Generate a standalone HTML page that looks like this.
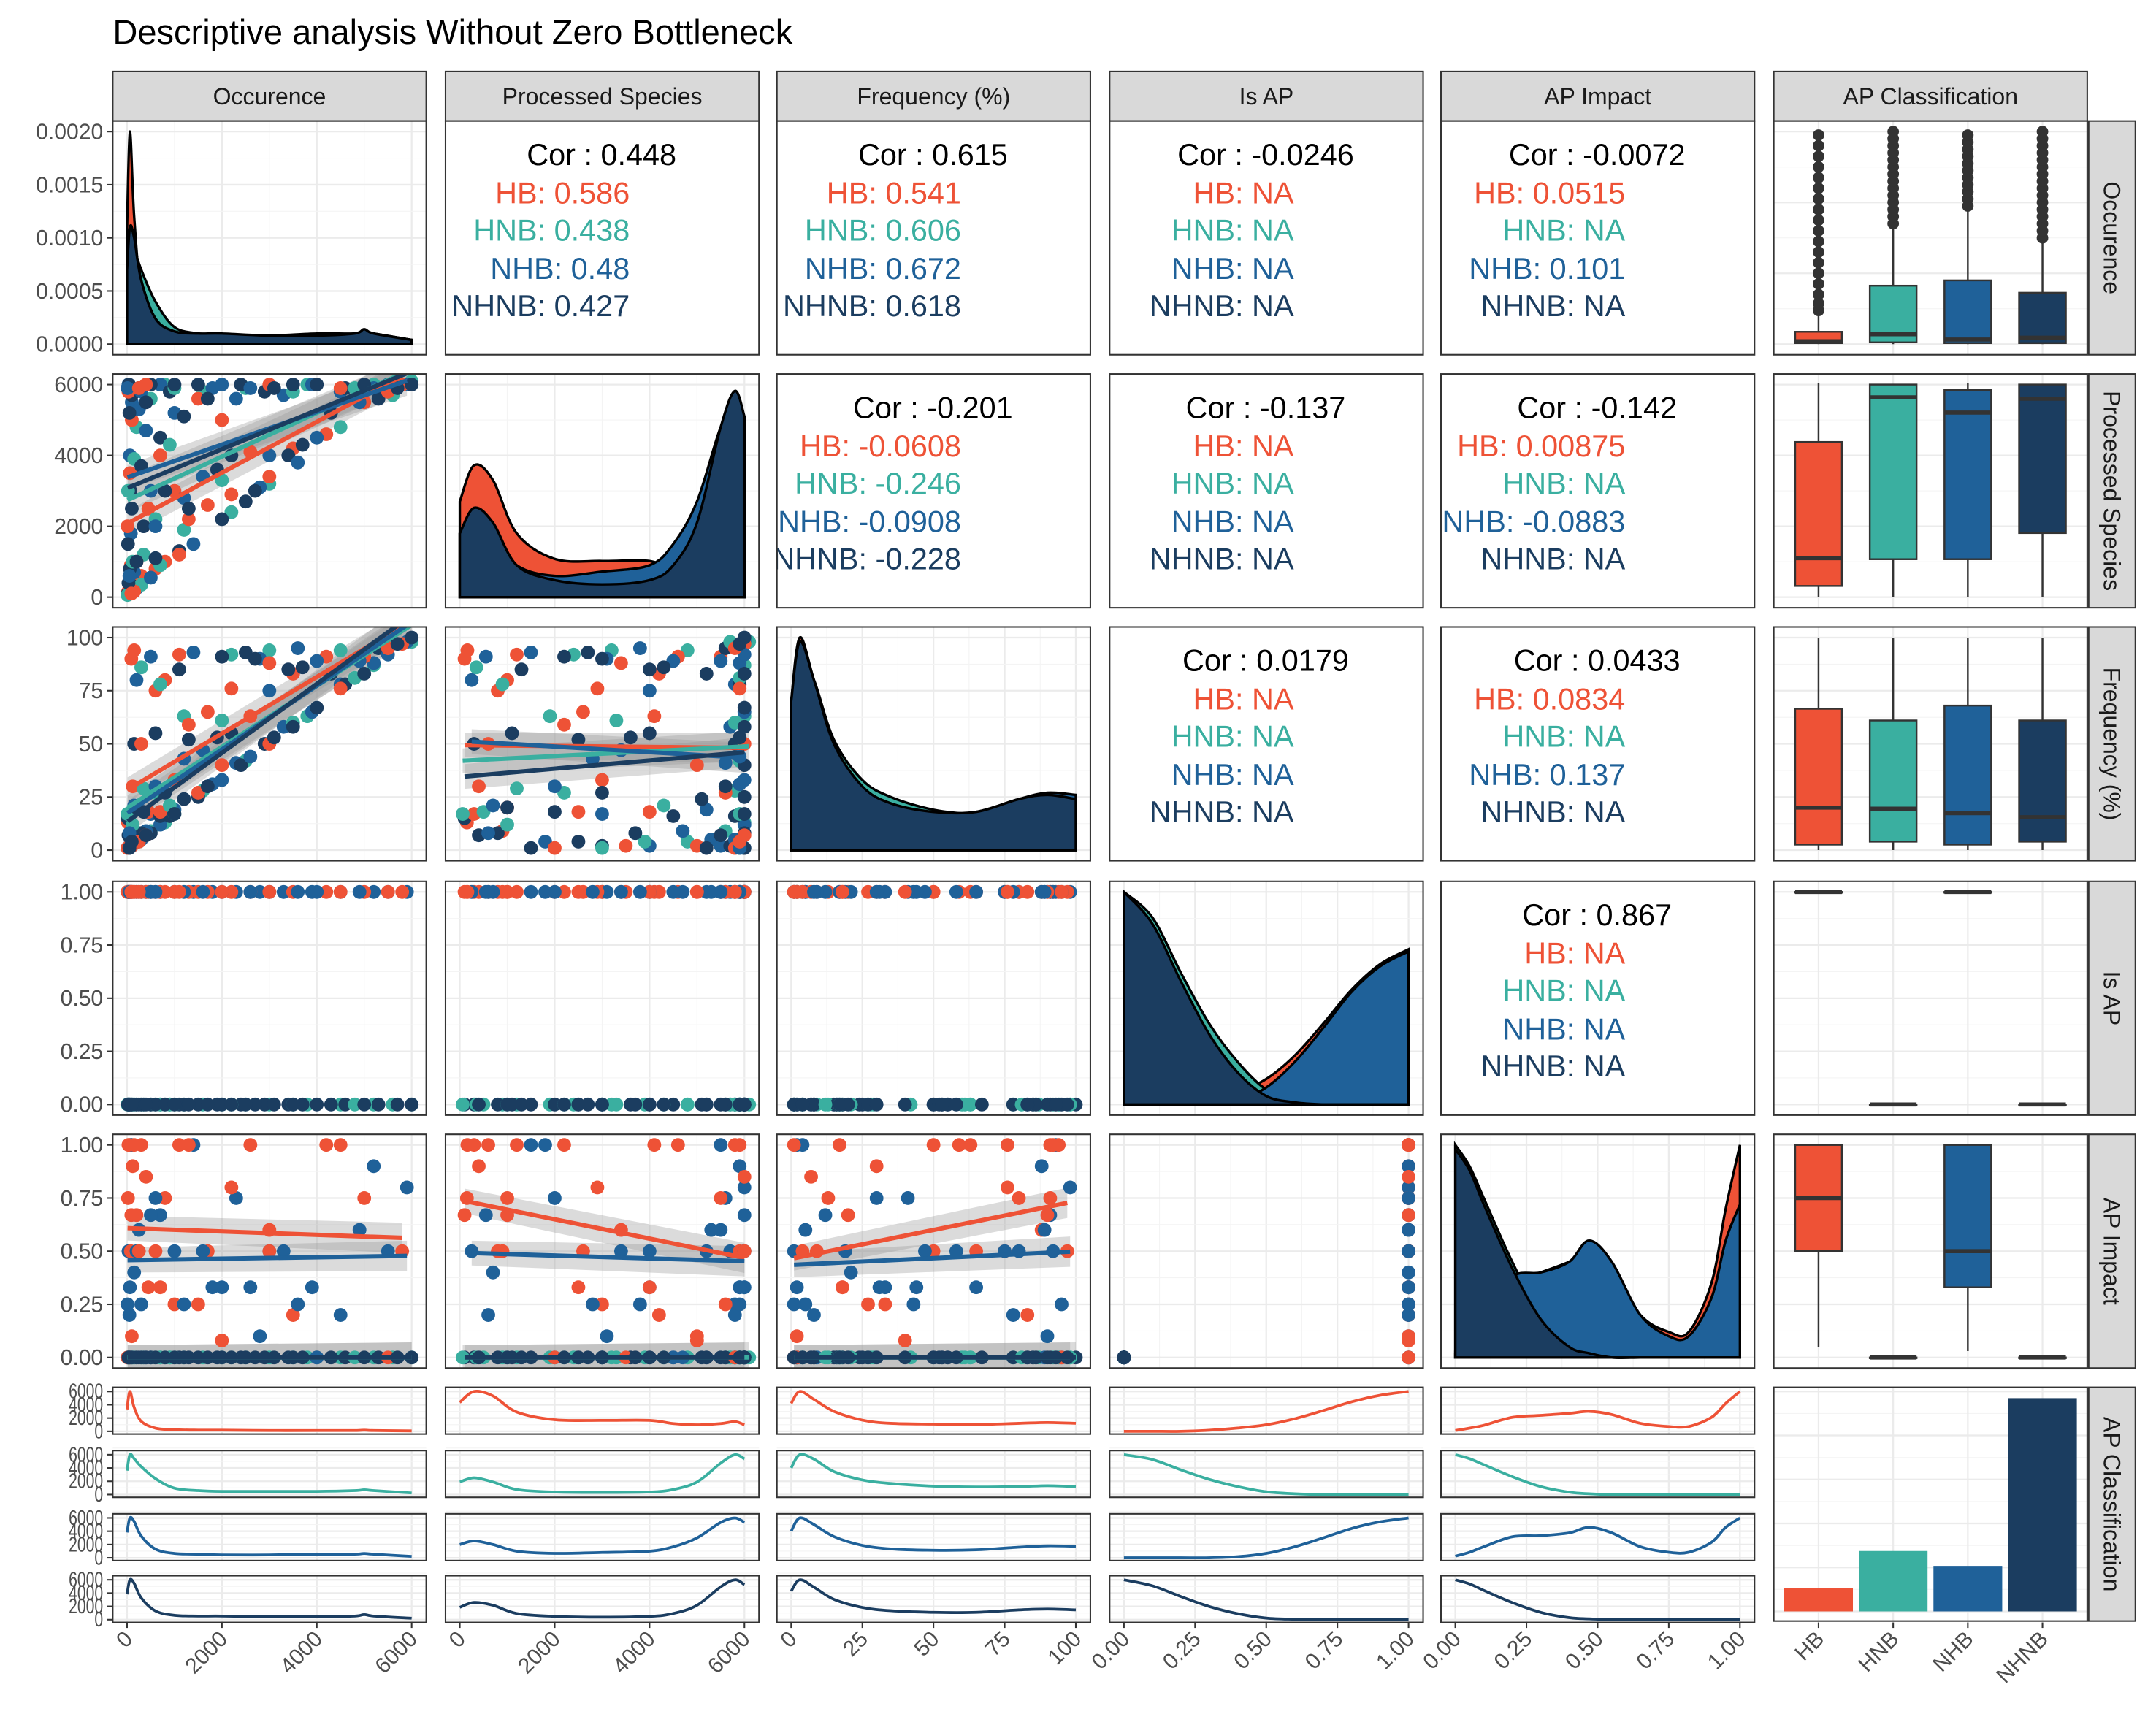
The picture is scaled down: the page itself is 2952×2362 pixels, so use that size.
<!DOCTYPE html>
<html><head><meta charset="utf-8">
<style>
html,body{margin:0;padding:0;background:#fff;}
svg{display:block;font-family:"Liberation Sans",Arial,sans-serif;}
</style></head>
<body>
<svg id="chart" xmlns="http://www.w3.org/2000/svg" width="2952" height="2362" viewBox="0 0 1568 1254.6" preserveAspectRatio="none">
<rect x="0" y="0" width="1568" height="1254.6" fill="#fff"/>
<text x="82" y="32" font-size="25" fill="#000">Descriptive analysis Without Zero Bottleneck</text>
</svg>
<script>
// ---------- DATA ----------
const varNames = ["Occurence","Processed Species","Frequency (%)","Is AP","AP Impact","AP Classification"];
const classNames = ["HB","HNB","NHB","NHNB"];
const classColors = ["#ee5236","#3aafa0","#1f6199","#1b3d60"];
// records: [occurence, processed, frequency, isAP, impact, class]
const records = [
[20,150,13,1,0.75,0],[50,300,17,1,1,0],[80,900,9,1,0.5,0],[120,400,30,1,0.9,0],[200,1000,20,1,0.67,0],[300,600,50,1,1,0],[450,2500,18,1,0.33,0],[600,800,75,1,0.5,0],[800,1000,80,1,0.75,0],[1000,3000,33,1,0.25,0],[1300,2200,59,1,1,0],[1700,2600,65,1,0.5,0],[2200,2900,76,1,0.8,0],[2600,4100,63,1,1,0],[3000,3400,88,1,0.6,0],[3500,4200,83,1,0.2,0],[4200,4600,91,1,1,0],[5000,5500,91,1,0.75,0],[5800,6000,97,1,0.5,0],[30,5800,1,1,1,0],[100,5000,2,1,0.1,0],[60,3500,2,1,0,0],[150,160,94,1,1,0],[400,6000,7,1,0.85,0],
[10,2000,1,1,0,0],[250,5900,4,1,0.5,0],[700,4000,18,1,0.33,0],[1100,1200,92,1,1,0],[1500,5600,27,1,0.25,0],[3000,6000,50,1,0.5,0],[4500,5900,76,1,1,0],[90,100,90,1,0.67,0],[2000,5000,40,1,0.08,0],[5500,5800,95,1,0,0],
[40,5900,1,0,0,1],[90,500,18,0,0,1],[200,4800,4,0,0,1],[350,1200,29,0,0,1],[500,5600,9,0,0,1],[800,6000,13,0,0,1],[1200,1900,63,0,0,1],[1600,5800,28,0,0,1],[2000,3300,61,0,0,1],[2500,5900,42,0,0,1],[3000,3200,94,0,0,1],[3800,6000,63,0,0,1],[4500,4800,94,0,0,1],[5200,6000,87,0,0,1],[6000,6100,98,0,0,1],[10,60,17,0,0,1],[150,3900,4,0,0,1],[700,900,78,0,0,1],
[20,3000,1,0,0,1],[300,350,86,0,0,1],[600,2200,27,0,0,1],[1000,5900,17,0,0,1],[2200,2400,92,0,0,1],[3500,5800,60,0,0,1],[4800,5900,81,0,0,1],[5600,5700,98,0,0,1],[120,1000,12,0,0,1],[900,4300,21,0,0,1],
[30,6000,1,1,0.5,2],[60,4000,2,1,0.33,2],[100,5500,2,1,1,2],[200,250,80,1,0.5,2],[300,5800,5,1,0.25,2],[500,3000,17,1,0,2],[700,6000,12,1,0.67,2],[1000,5200,19,1,0.5,2],[1400,1500,93,1,1,2],[1800,5900,31,1,0.33,2],[2300,5600,41,1,0.75,2],[2800,3100,90,1,0.1,2],[3300,5700,58,1,0.5,2],[3900,6000,65,1,0.33,2],[4500,5800,78,1,0.2,2],[5200,5900,88,1,0.9,2],[5900,6000,98,1,0.8,2],[80,1800,4,1,1,2],[150,700,21,1,0.4,2],[400,4700,9,1,0,2],[250,5300,5,1,0.6,2],[1200,2800,43,1,0.25,2],
[10,5900,1,1,0.25,2],[500,550,91,1,0.67,2],[2000,6000,33,1,0.33,2],[3000,4000,75,1,0.5,2],[4000,4500,89,1,0,2],[5500,6000,92,1,0.5,2],[600,2000,30,1,0.75,2],[50,600,8,1,0.2,2],[1600,3400,47,1,0.5,2],[2600,5900,44,1,0.33,2],[3600,3800,95,1,0.25,2],[4900,5500,89,1,0.6,2],
[15,100,15,0,0,3],[40,6000,1,0,0,3],[70,3000,2,0,0,3],[100,5700,2,0,0,3],[150,300,50,0,0,3],[250,5900,4,0,0,3],[350,2000,18,0,0,3],[500,6000,8,0,0,3],[700,4500,16,0,0,3],[900,5800,16,0,0,3],[1100,1300,85,0,0,3],[1500,6000,25,0,0,3],[1900,3600,53,0,0,3],[2400,6000,40,0,0,3],[2900,5800,50,0,0,3],[3400,4000,85,0,0,3],[4000,6000,67,0,0,3],[4600,5900,78,0,0,3],[5300,5600,95,0,0,3],[6000,6000,100,0,0,3],[20,1500,1,0,0,3],[60,800,8,0,0,3],[300,3700,8,0,0,3],[1200,5100,24,0,0,3],[2000,2200,91,0,0,3],[50,5200,1,0,0,3],
[30,400,7,0,0,3],[200,1000,20,0,0,3],[600,1100,55,0,0,3],[800,3000,27,0,0,3],[1300,2500,52,0,0,3],[1700,5600,30,0,0,3],[2200,4000,55,0,0,3],[2700,3000,90,0,0,3],[3100,5900,53,0,0,3],[3700,4300,86,0,0,3],[4300,5200,83,0,0,3],[5000,6000,83,0,0,3],[5700,5900,97,0,0,3],[400,5500,7,0,0,3],[1000,6000,17,0,0,3],[100,2500,4,0,0,3],[2500,2700,93,0,0,3],[3500,6000,58,0,0,3]
];
// density grids (x positions in data units) and class densities (fraction of panel height)
const densX0 = [0,60,150,300,600,1000,1500,2000,3000,4000,4800,5000,5200,6000];
const densHB0 = [0.55,1.0,0.6,0.25,0.08,0.04,0.03,0.03,0.02,0.02,0.02,0.03,0.02,0.01];
const densHNB0 = [0.3,0.5,0.45,0.35,0.2,0.08,0.05,0.04,0.04,0.04,0.05,0.06,0.05,0.02];
const densNHB0 = [0.35,0.55,0.5,0.3,0.12,0.06,0.05,0.04,0.04,0.05,0.05,0.06,0.05,0.02];
const densNHNB0 = [0.35,0.55,0.5,0.3,0.12,0.06,0.05,0.05,0.04,0.04,0.05,0.07,0.05,0.02];
const densX1 = [0,300,700,1200,2000,3000,4000,4500,5000,5500,5800,6000];
const densHB1 = [0.45,0.62,0.55,0.3,0.18,0.17,0.17,0.12,0.1,0.12,0.15,0.1];
const densHNB1 = [0.3,0.4,0.3,0.12,0.06,0.05,0.06,0.12,0.3,0.75,0.95,0.85];
const densNHB1 = [0.3,0.38,0.3,0.15,0.1,0.12,0.15,0.25,0.45,0.8,0.9,0.8];
const densNHNB1 = [0.3,0.42,0.35,0.15,0.08,0.06,0.08,0.15,0.35,0.8,0.97,0.85];
const densX2 = [0,3,8,15,25,35,50,65,80,90,100];
const densHB2 = [0.7,1.0,0.8,0.5,0.28,0.2,0.18,0.17,0.2,0.22,0.2];
const densHNB2 = [0.6,0.9,0.8,0.52,0.33,0.25,0.19,0.17,0.18,0.2,0.18];
const densNHB2 = [0.6,0.9,0.75,0.48,0.28,0.2,0.17,0.18,0.24,0.27,0.26];
const densNHNB2 = [0.7,0.98,0.8,0.5,0.3,0.22,0.18,0.18,0.24,0.26,0.24];
const densX3 = [0,0.1,0.2,0.3,0.4,0.5,0.6,0.7,0.8,0.9,1.0];
const densHB3 = [0,0,0,0.02,0.06,0.12,0.23,0.38,0.54,0.66,0.73];
const densHNB3 = [1.0,0.88,0.62,0.38,0.2,0.07,0.02,0,0,0,0];
const densNHB3 = [0,0,0,0,0.02,0.08,0.2,0.36,0.53,0.65,0.72];
const densNHNB3 = [1.0,0.85,0.58,0.33,0.15,0.04,0.01,0,0,0,0];
const densX4 = [0,0.05,0.1,0.2,0.3,0.4,0.47,0.55,0.65,0.75,0.82,0.9,0.95,1.0];
const densHB4 = [0.02,0.08,0.15,0.35,0.4,0.45,0.5,0.42,0.2,0.12,0.12,0.35,0.7,1.0];
const densHNB4 = [1.0,0.9,0.75,0.45,0.2,0.06,0.02,0,0,0,0,0,0,0];
const densNHB4 = [0.03,0.1,0.2,0.38,0.4,0.45,0.55,0.45,0.2,0.1,0.1,0.28,0.55,0.72];
const densNHNB4 = [0.98,0.88,0.72,0.42,0.18,0.05,0.02,0,0,0,0,0,0,0];
// correlations: [row, col, cor, HB, HNB, NHB, NHNB]
const corPanels = [
[0,1,"0.448","0.586","0.438","0.48","0.427"],
[0,2,"0.615","0.541","0.606","0.672","0.618"],
[0,3,"-0.0246","NA","NA","NA","NA"],
[0,4,"-0.0072","0.0515","NA","0.101","NA"],
[1,2,"-0.201","-0.0608","-0.246","-0.0908","-0.228"],
[1,3,"-0.137","NA","NA","NA","NA"],
[1,4,"-0.142","0.00875","NA","-0.0883","NA"],
[2,3,"0.0179","NA","NA","NA","NA"],
[2,4,"0.0433","0.0834","NA","0.137","NA"],
[3,4,"0.867","NA","NA","NA","NA"]
];
// boxplot stats per row variable: [lowWhisker, q1, median, q3, highWhisker] per class
const boxOcc = [[0,30,80,350,900],[0,50,280,1650,3300],[0,30,130,1800,3800],[0,30,180,1450,2900]];
const boxProc = [[0,315,1100,4380,6050],[0,1070,5640,6000,6000],[0,1070,5210,5850,6050],[0,1810,5600,6000,6000]];
const boxFreq = [[0,2.6,20,66.5,100],[0,4,19.5,61,100],[0,2.6,17.4,68,100],[0,4,15.5,61,100]];
const boxIsAP = [[1,1,1,1,1],[0,0,0,0,0],[1,1,1,1,1],[0,0,0,0,0]];
const boxImpact = [[0.05,0.5,0.75,1,1],[0,0,0,0,0],[0.03,0.33,0.5,1,1],[0,0,0,0,0]];
const outHB = [950,1150,1400,1700,2000,2300,2600,2900,3200,3500,3800,4100,4400,4700,5000,5300,5600,5900];
const outHNB = [3400,3600,3800,4000,4200,4400,4600,4800,5000,5200,5400,5600,5800,6000];
const outNHB = [3900,4100,4300,4500,4700,4900,5100,5300,5500,5700,5900];
const outNHNB = [3000,3200,3400,3600,3800,4000,4200,4400,4600,4800,5000,5200,5400,5600,5800,6000];
const classCounts = [520,1340,1010,4730];
// tick labels
const ticksCount = [0,2000,4000,6000];
const ticksPct = [0,25,50,75,100];
const ticksUnit = [0,0.25,0.5,0.75,1];
const ticksDens = [0,0.0005,0.001,0.0015,0.002];

// ---------- LAYOUT ----------
const NS="http://www.w3.org/2000/svg";
const svg=document.getElementById("chart");
const colL=[82,324,565,807,1048,1290], PW=228;
const rowT=[88,272,456,641,825,1009], PH=170;
const ranges=[[0,6000],[0,6000],[0,100],[0,1],[0,1]];
const ticksFor=[ticksCount,ticksCount,ticksPct,ticksUnit,ticksUnit];
const fmt=[v=>String(v),v=>String(v),v=>String(v),v=>v.toFixed(2),v=>v.toFixed(2)];
const densX=[densX0,densX1,densX2,densX3,densX4];
const densC=[[densHB0,densHNB0,densNHB0,densNHNB0],[densHB1,densHNB1,densNHB1,densNHNB1],[densHB2,densHNB2,densNHB2,densNHNB2],[densHB3,densHNB3,densNHB3,densNHNB3],[densHB4,densHNB4,densNHB4,densNHNB4]];
function el(tag,attrs,parent){const e=document.createElementNS(NS,tag);for(const k in attrs)e.setAttribute(k,attrs[k]);(parent||svg).appendChild(e);return e;}
function xScale(vi,c,val){const r=ranges[vi];return colL[c]+10.4+(val-r[0])/(r[1]-r[0])*207;}
function yScale(vi,r,val){const g=ranges[vi];return rowT[r]+162.3-(val-g[0])/(g[1]-g[0])*154.6;}
function catX(i){return colL[5]+(i+0.6)/4.2*PW;}
function spline(pts){let d="M"+pts[0][0]+","+pts[0][1];for(let i=0;i<pts.length-1;i++){const p0=pts[Math.max(0,i-1)],p1=pts[i],p2=pts[i+1],p3=pts[Math.min(pts.length-1,i+2)];const c1x=p1[0]+(p2[0]-p0[0])/6,c1y=p1[1]+(p2[1]-p0[1])/6,c2x=p2[0]-(p3[0]-p1[0])/6,c2y=p2[1]-(p3[1]-p1[1])/6;d+=" C"+c1x+","+c1y+" "+c2x+","+c2y+" "+p2[0]+","+p2[1];}return d;}

const defs=el("defs",{});
function clipFor(id,x,y,w,h){const cp=el("clipPath",{id:id},defs);el("rect",{x:x,y:y,width:w,height:h},cp);return "url(#"+id+")";}

function panelBg(x,y,w,h,name){
  const r=el("rect",{x:x,y:y,width:w,height:h,fill:"#fff"});
  
  
  return r;
}
function panelBorder(x,y,w,h){el("rect",{x:x,y:y,width:w,height:h,fill:"none",stroke:"#333","stroke-width":1.1});}
function vgrid(x,y1,y2,minor){el("line",{x1:x,x2:x,y1:y1,y2:y2,stroke:minor?"#f4f4f4":"#ebebeb","stroke-width":minor?0.6:1.2});}
function hgrid(y,x1,x2,minor){el("line",{x1:x1,x2:x2,y1:y,y2:y,stroke:minor?"#f4f4f4":"#ebebeb","stroke-width":minor?0.6:1.2});}

for(let c=0;c<6;c++){
  const s=el("rect",{x:colL[c],y:52,width:PW,height:36,fill:"#d9d9d9",stroke:"#333","stroke-width":1.1});
  
  
  const t=el("text",{x:colL[c]+PW/2,y:76,"text-anchor":"middle","font-size":17,fill:"#1a1a1a"});
  t.textContent=varNames[c];
  
  
}
for(let r=0;r<6;r++){
  const s=el("rect",{x:1519,y:rowT[r],width:34,height:PH,fill:"#d9d9d9",stroke:"#333","stroke-width":1.1});
  
  
  const cx=1530,cy=rowT[r]+PH/2;
  const t=el("text",{x:cx,y:cy,"text-anchor":"middle","font-size":17,fill:"#1a1a1a",transform:"rotate(90 "+cx+" "+cy+")"});
  t.textContent=varNames[r];
  
  
}

function gridPanel(r,c,yv){
  const x0=colL[c],y0=rowT[r];
  const tx=ticksFor[c];
  for(let i=0;i<tx.length;i++){const X=xScale(c,c,tx[i]);vgrid(X,y0,y0+PH);if(i<tx.length-1)vgrid((X+xScale(c,c,tx[i+1]))/2,y0,y0+PH,true);}
  if(yv==="dens"){for(let i=0;i<ticksDens.length;i++){const Y=rowT[r]+162.3-ticksDens[i]/0.002*154.6;hgrid(Y,x0,x0+PW);if(i<ticksDens.length-1)hgrid(Y-154.6/8,x0,x0+PW,true);}}
  else{const ty=ticksFor[yv];for(let i=0;i<ty.length;i++){const Y=yScale(yv,r,ty[i]);hgrid(Y,x0,x0+PW);if(i<ty.length-1)hgrid((Y+yScale(yv,r,ty[i+1]))/2,x0,x0+PW,true);}}
}

// draw order: round robin across classes
const counters=[0,0,0,0];
const rank=records.map(d=>counters[d[5]]++);
const order=records.map((d,i)=>i).sort((a,b)=>rank[a]-rank[b]||records[a][5]-records[b][5]);

function fitLine(k,c,r){
  const sub=records.filter(d=>d[5]===k);
  const xsv=sub.map(d=>d[c]),ysv=sub.map(d=>d[r]);
  const n=xsv.length,mx=xsv.reduce((a,b)=>a+b,0)/n,my=ysv.reduce((a,b)=>a+b,0)/n;
  let sxy=0,sxx=0;for(let i=0;i<n;i++){sxy+=(xsv[i]-mx)*(ysv[i]-my);sxx+=(xsv[i]-mx)**2;}
  const b=sxx?sxy/sxx:0,a=my-b*mx;
  const xa=Math.min(...xsv),xb=Math.max(...xsv);
  return {X1:xScale(c,c,xa),X2:xScale(c,c,xb),Y1:yScale(r,r,a+b*xa),Y2:yScale(r,r,a+b*xb)};
}

for(let r=0;r<5;r++){for(let c=0;c<5;c++){
  const x0=colL[c],y0=rowT[r];
  panelBg(x0,y0,PW,PH,"panel-r"+(r+1)+"-c"+(c+1));
  if(r>=c) gridPanel(r,c,r===0?"dens":r);
  const clip=clipFor("cp"+r+"_"+c,x0,y0,PW,PH);
  const g=el("g",{"clip-path":clip});
  if(r===c){
    const xs=densX[c];
    for(let k=0;k<4;k++){
      const base=rowT[r]+162.3;
      const pts=xs.map((v,i)=>[xScale(c,c,v),base-densC[c][k][i]*154.6]);
      let d=spline(pts);d+=" L"+pts[pts.length-1][0]+","+base+" L"+pts[0][0]+","+base+" Z";
      const p=el("path",{d:d,fill:classColors[k],stroke:"#000","stroke-width":1.8},g);
      
      
    }
  } else if(r<c){
    const cp=corPanels.find(q=>q[0]===r&&q[1]===c);
    const offs=[24,52,79,107,134];
    const t0=el("text",{x:x0+113.5,y:y0+offs[0]+8,"text-anchor":"middle","font-size":22,fill:"#000"},g);
    t0.textContent="Cor : "+cp[2];
    
    
    for(let k=0;k<4;k++){
      const t=el("text",{x:x0+134,y:y0+offs[k+1]+8,"text-anchor":"end","font-size":22,fill:classColors[k]},g);
      t.textContent=classNames[k]+": "+cp[3+k];
      
      
    }
  } else {
    if(r!==3&&c!==3){
      for(let k=0;k<4;k++){
        const f=fitLine(k,c,r);
        const rib=el("path",{d:"M"+f.X1+","+(f.Y1-9)+" L"+f.X2+","+(f.Y2-11)+" L"+f.X2+","+(f.Y2+11)+" L"+f.X1+","+(f.Y1+9)+" Z",fill:"#999","fill-opacity":0.35},g);
        
        
      }
    }
    for(const i of order){
      const d=records[i];
      const pt=el("circle",{cx:xScale(c,c,d[c]),cy:yScale(r,r,d[r]),r:5,fill:classColors[d[5]]},g);
      
      
    }
    if(r!==3&&c!==3){
      for(let k=0;k<4;k++){
        const f=fitLine(k,c,r);
        const ln=el("line",{x1:f.X1,x2:f.X2,y1:f.Y1,y2:f.Y2,stroke:classColors[k],"stroke-width":3.2},g);
        
        
      }
    }
  }
  panelBorder(x0,y0,PW,PH);
}}

const boxes=[boxOcc,boxProc,boxFreq,boxIsAP,boxImpact];
const outs=[outHB,outHNB,outNHB,outNHNB];
for(let r=0;r<5;r++){
  const x0=colL[5],y0=rowT[r];
  panelBg(x0,y0,PW,PH,"boxplot-panel-r"+(r+1));
  const ty=ticksFor[r];
  for(let i=0;i<ty.length;i++){const Y=yScale(r,r,ty[i]);hgrid(Y,x0,x0+PW);if(i<ty.length-1)hgrid((Y+yScale(r,r,ty[i+1]))/2,x0,x0+PW,true);}
  for(let k=0;k<4;k++)vgrid(catX(k),y0,y0+PH);
  for(let k=0;k<4;k++){
    const s=boxes[r][k],cx=catX(k),hw=17;
    el("line",{x1:cx,x2:cx,y1:yScale(r,r,s[0]),y2:yScale(r,r,s[4]),stroke:"#333","stroke-width":1.3});
    const bx=el("rect",{x:cx-hw,y:yScale(r,r,s[3]),width:2*hw,height:Math.max(0.5,yScale(r,r,s[1])-yScale(r,r,s[3])),fill:classColors[k],stroke:"#333","stroke-width":1.3});
    
    
    el("line",{x1:cx-hw,x2:cx+hw,y1:yScale(r,r,s[2]),y2:yScale(r,r,s[2]),stroke:"#333","stroke-width":3});
    if(r===0){for(const v of outs[k]){el("circle",{cx:cx,cy:yScale(0,0,v),r:4.2,fill:"#333"});}}
  }
  panelBorder(x0,y0,PW,PH);
}

const subT=[1009,1055,1101,1146],subH=34;
for(let c=0;c<5;c++){
  for(let k=0;k<4;k++){
    const x0=colL[c],y0=subT[k];
    panelBg(x0,y0,PW,subH,"class-density-panel-"+classNames[k]+"-c"+(c+1));
    for(let i=0;i<ticksFor[c].length;i++)vgrid(xScale(c,c,ticksFor[c][i]),y0,y0+subH);
    for(let i=0;i<ticksCount.length;i++){const Y=y0+subH-2-ticksCount[i]/6000*(subH-5);hgrid(Y,x0,x0+PW);hgrid(Y-(subH-5)/6,x0,x0+PW,true);}
    const arr=densC[c][k],mx=Math.max(...arr);
    const pts=densX[c].map((v,i)=>[xScale(c,c,v),y0+subH-2-arr[i]/mx*(subH-5)]);
    const clip=clipFor("cs"+c+"_"+k,x0,y0,PW,subH);
    const p=el("path",{d:spline(pts),fill:"none",stroke:classColors[k],"stroke-width":2,"clip-path":clip});
    
    
    panelBorder(x0,y0,PW,subH);
  }
}
{
  const x0=colL[5],y0=rowT[5];
  panelBg(x0,y0,PW,PH,"class-count-panel");
  for(let i=0;i<6;i++){hgrid(1172-i*32,x0,x0+PW);hgrid(1156-i*32,x0,x0+PW,true);}
  for(let k=0;k<4;k++)vgrid(catX(k),y0,y0+PH);
  for(let k=0;k<4;k++){
    const h=classCounts[k]*0.0328;
    const b=el("rect",{x:catX(k)-25,y:1172-h,width:50,height:h,fill:classColors[k]});
    
    
  }
  panelBorder(x0,y0,PW,PH);
}

const tc="#4d4d4d";
for(let r=0;r<5;r++){
  const vals=r===0?ticksDens:ticksFor[r];
  for(const v of vals){
    const Y=r===0?rowT[0]+162.3-v/0.002*154.6:yScale(r,r,v);
    el("line",{x1:78,x2:82,y1:Y,y2:Y,stroke:"#333","stroke-width":1.1});
    const t=el("text",{x:75,y:Y+5.5,"text-anchor":"end","font-size":16,fill:tc});
    t.textContent=r===0?v.toFixed(4):fmt[r](v);
    
    
  }
}
for(let k=0;k<4;k++){
  for(const v of ticksCount){
    const Y=subT[k]+subH-2-v/6000*(subH-5);
    el("line",{x1:78,x2:82,y1:Y,y2:Y,stroke:"#333","stroke-width":1.1});
    const t=el("text",{x:75,y:Y+5,"text-anchor":"end","font-size":15,fill:tc,transform:"translate(75 "+(Y+5)+") scale(0.75 1) translate(-75 "+(-(Y+5))+")"});
    t.textContent=String(v);
    
    
  }
}
for(let c=0;c<6;c++){
  const labs=c<5?ticksFor[c]:classNames;
  labs.forEach((v,i)=>{
    const X=c<5?xScale(c,c,v):catX(i);
    el("line",{x1:X,x2:X,y1:1180,y2:1184,stroke:"#333","stroke-width":1.1});
    const ax=X+5,ay=1193;
    const t=el("text",{x:ax,y:ay,"text-anchor":"end","font-size":16,fill:tc,transform:"rotate(-45 "+ax+" "+ay+")"});
    t.textContent=c<5?fmt[c](v):v;
    
    
  });
}
</script>
</body></html>
